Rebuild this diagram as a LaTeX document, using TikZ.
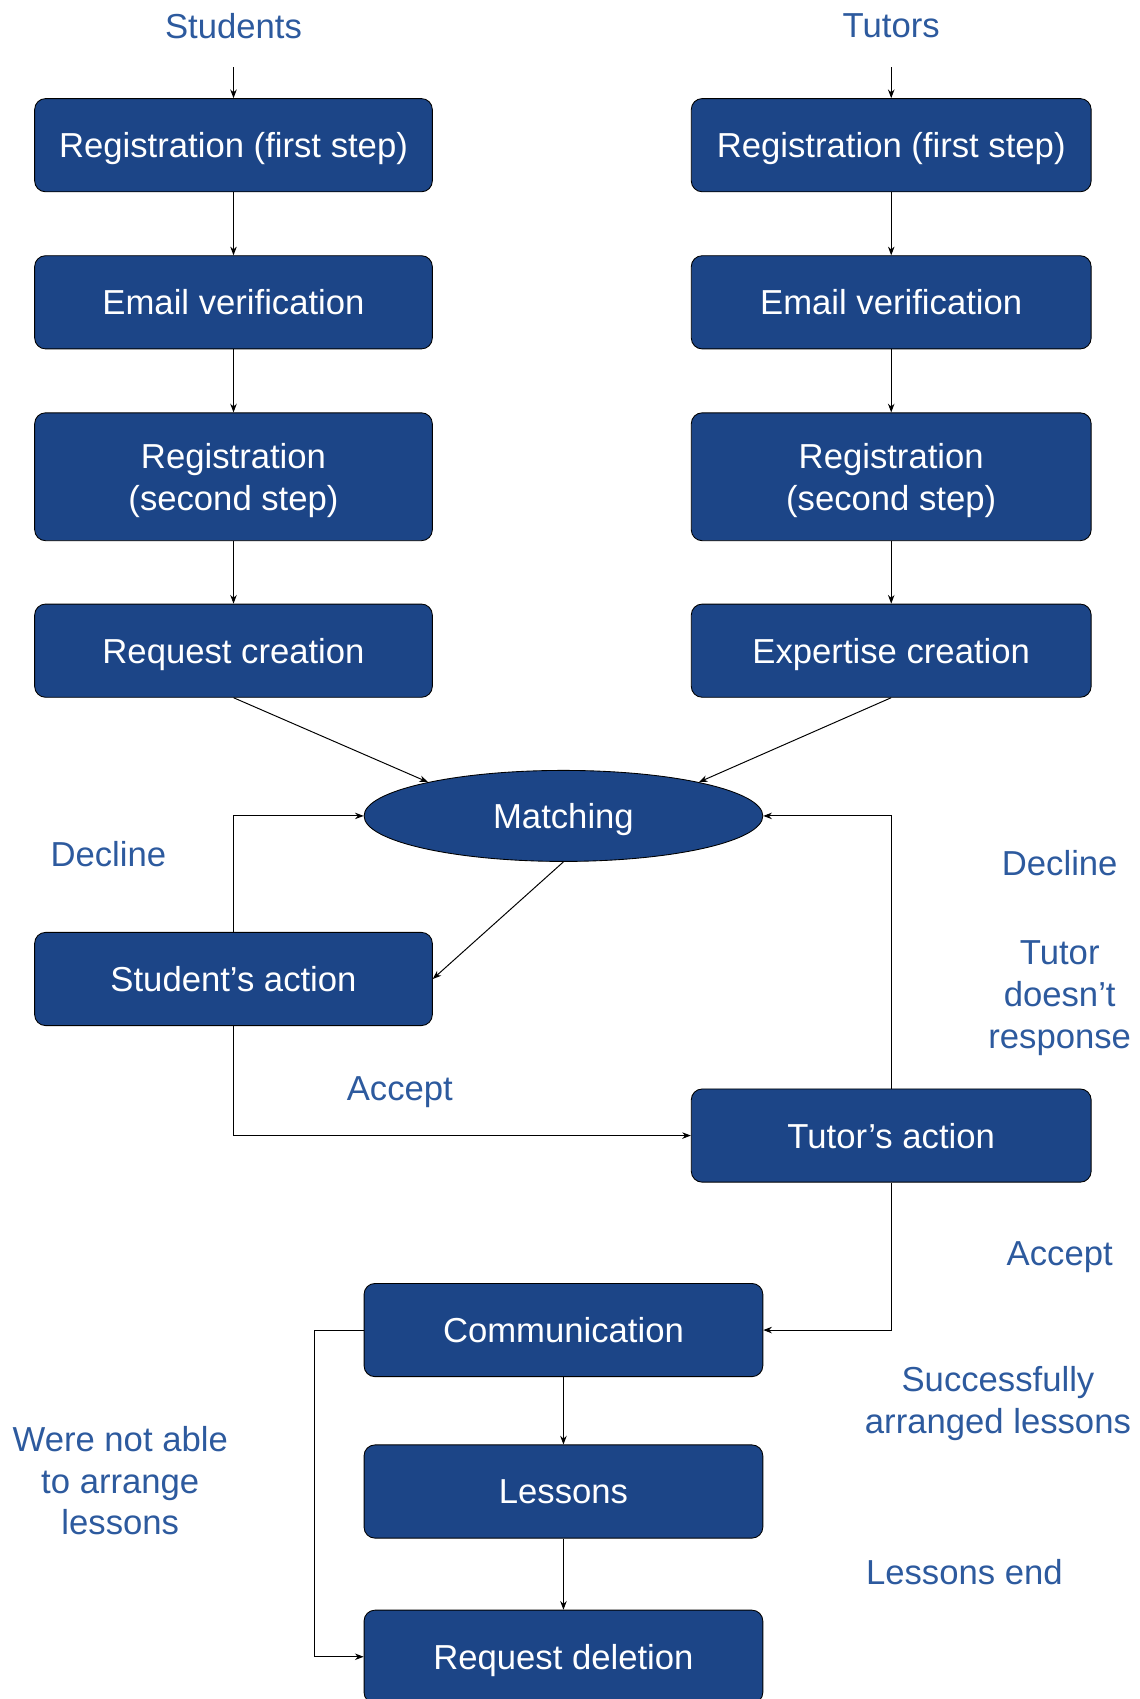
\documentclass[tikz,border=0pt]{standalone}
\usepackage{fontspec}
\setmainfont{Liberation Sans}
\usetikzlibrary{shapes.geometric,arrows.meta}
\definecolor{boxblue}{HTML}{1C4587}
\definecolor{lblblue}{HTML}{2D5A9E}
\newcommand\dfont{\fontsize{32}{38.5}\selectfont}
\begin{document}
\begin{tikzpicture}[x=1pt,y=-1pt,
  box/.style={draw=black, line width=0.8pt, fill=boxblue, rounded corners=10pt,
    text=white, font=\dfont, minimum width=367pt, minimum height=86pt,
    inner sep=0pt, align=center, text depth=0pt},
  lbl/.style={text=lblblue, font=\dfont, align=center, inner sep=0pt, text depth=0pt},
  conn/.style={draw=black, line width=0.9pt, -{Stealth[length=8pt,width=6pt]}}]
\useasboundingbox (0,0) rectangle (1052,1568);
\clip (0,0) rectangle (1052,1568);
% labels
\node[lbl] (stu) at (215.5,24) {Students};
\node[lbl] (tut) at (822.5,24) {Tutors};
\coordinate (s0) at (215.5,62);
\coordinate (t0) at (822.5,62);
% left column
\node[box] (l1) at (215.5,134) {Registration (first step)};
\node[box] (l2) at (215.5,279) {Email verification};
\node[box, minimum height=118pt] (l3) at (215.5,440) {Registration\\(second step)};
\node[box] (l4) at (215.5,600.5) {Request creation};
% right column
\node[box, minimum width=369pt] (r1) at (822.5,134) {Registration (first step)};
\node[box, minimum width=369pt] (r2) at (822.5,279) {Email verification};
\node[box, minimum width=369pt, minimum height=118pt] (r3) at (822.5,440) {Registration\\(second step)};
\node[box, minimum width=369pt] (r4) at (822.5,600.5) {Expertise creation};
% matching
\node[ellipse, draw=black, line width=0.8pt, fill=boxblue, text=white, font=\dfont,
  minimum width=368pt, minimum height=84pt, inner sep=0pt, text depth=0pt] (m) at (520,753) {Matching};
% actions
\node[box] (sa) at (215.5,903.5) {Student’s action};
\node[box, minimum width=369pt] (ta) at (822.5,1048) {Tutor’s action};
% bottom column
\node[box, minimum width=368pt] (co) at (520,1227.5) {Communication};
\node[box, minimum width=368pt] (le) at (520,1376.5) {Lessons};
\node[box, minimum width=368pt] (rd) at (520,1529) {Request deletion};
% side labels
\node[lbl] (dl) at (100,788) {Decline};
\node[lbl] (dr) at (978,796) {Decline};
\node[lbl] (tn) at (978,918) {Tutor\\doesn’t\\response};
\node[lbl] (al) at (369,1005) {Accept};
\node[lbl] (ar) at (978,1157) {Accept};
\node[lbl] (sl) at (921,1292) {Successfully\\arranged lessons};
\node[lbl] (wn) at (111,1366.5) {Were not able\\to arrange\\lessons};
\node[lbl] (lend) at (890,1451) {Lessons end};
% connectors
\draw[conn] (s0) -- (l1.north);
\draw[conn] (t0) -- (r1.north);
\draw[conn] (l1) -- (l2);
\draw[conn] (l2) -- (l3);
\draw[conn] (l3) -- (l4);
\draw[conn] (r1) -- (r2);
\draw[conn] (r2) -- (r3);
\draw[conn] (r3) -- (r4);
\draw[conn] (l4.south) -- (m.166);
\draw[conn] (r4.south) -- (m.14);
\draw[conn] (m.south) -- (sa.east);
\draw[conn] (sa.north) |- (m.west);
\draw[conn] (ta.north) |- (m.east);
\draw[conn] (sa.south) |- (ta.west);
\draw[conn] (ta.south) |- (co.east);
\draw[conn] (co.west) -- ++(-45,0) |- (rd.west);
\draw[conn] (co) -- (le);
\draw[conn] (le) -- (rd);
\end{tikzpicture}
\end{document}
